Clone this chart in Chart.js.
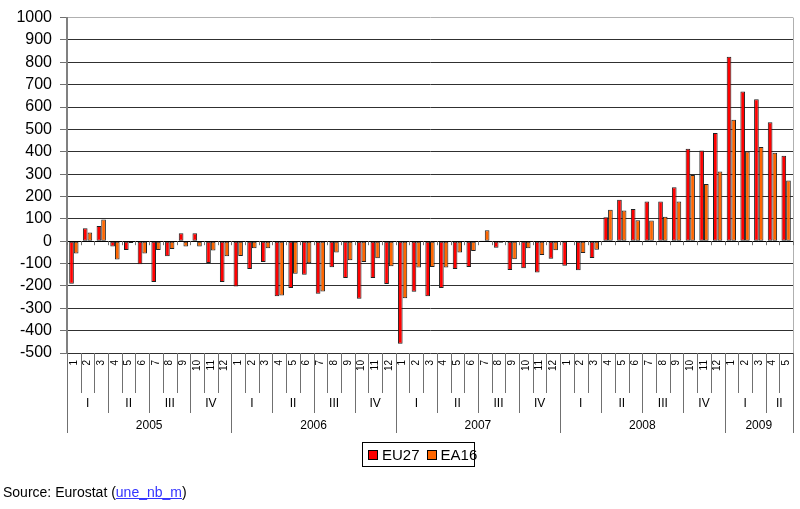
<!DOCTYPE html>
<html>
<head>
<meta charset="utf-8">
<script src="https://cdn.jsdelivr.net/npm/chart.js@4.4.1/dist/chart.umd.min.js"></script>
<style>
  body { margin: 0; background: #fff; }
  #wrap { position: relative; width: 800px; height: 509px; font-family: Arial, "Liberation Sans", sans-serif; }
  #chart { position: absolute; left: 0; top: 0; }
  .legend { position: absolute; left: 362px; top: 442px; width: 111px; height: 23px; border: 1px solid #000; font-size: 15px; line-height: 23px; white-space: nowrap; }
  .legend span.sw { display: inline-block; width: 8px; height: 8px; border: 1px solid #000; margin: 0 4px 0 5px; vertical-align: 0px; }
  .source { position: absolute; left: 3px; top: 484px; font-size: 14px; color: #000; }
  .source a { color: #3333ff; text-decoration: underline; }
</style>
</head>
<body>
<div id="wrap">
  <canvas id="chart" width="800" height="509"></canvas>
  <div class="legend"><span class="sw" style="background:#ff0000"></span>EU27<span class="sw" style="background:#ff6600;margin-left:7px"></span>EA16</div>
  <div class="source">Source: Eurostat (<a href="#">une_nb_m</a>)</div>
</div>
<script>
// time axis
const years = ['2005', '2006', '2007', '2008', '2009'];
const quarters = ['I', 'II', 'III', 'IV'];
const months = ['1','2','3','4','5','6','7','8','9','10','11','12'];
const monthCount = 53; // Jan 2005 .. May 2009

// monthly change, thousands
const eu27 = [
  -190, 58, 68, -24, -39, -103, -183, -67, 36, 36, -97, -183,
  -203, -124, -93, -246, -209, -150, -235, -116, -165, -257, -165, -191,
  -459, -226, -246, -209, -124, -115, 3, -29, -129, -121, -140, -78,
  -110, -130, -75, 107, 185, 144, 178, 178, 241, 413, 406, 484,
  825, 669, 635, 532, 382
];
const ea16 = [
  -55, 39, 97, -82, -8, -55, -39, -35, -24, -24, -42, -67,
  -66, -32, -32, -243, -146, -99, -225, -51, -85, -93, -76, -112,
  -255, -118, -115, -118, -51, -44, 49, -7, -81, -32, -62, -41,
  2, -53, -38, 141, 137, 94, 93, 109, 178, 296, 256, 312,
  543, 401, 421, 396, 272
];

const labels = [];
for (let i = 0; i < monthCount; i++) labels.push(years[Math.floor(i / 12)] + '-' + months[i % 12]);

// draws the month / quarter / year axis under the plot and the small ticks on the zero line
const timeAxis = {
  id: 'timeAxis',
  afterDraw(chart) {
    const ctx = chart.ctx;
    const area = chart.chartArea;
    const w = (area.right - area.left) / monthCount;
    const y0 = chart.scales.y.getPixelForValue(0);
    const bottom = area.bottom;
    ctx.save();
    ctx.lineWidth = 1;
    // right border of plot
    ctx.beginPath();
    ctx.moveTo(Math.round(area.right) + 0.5, area.top);
    ctx.lineTo(Math.round(area.right) + 0.5, bottom);
    ctx.strokeStyle = '#b0b0b0';
    ctx.stroke();
    ctx.strokeStyle = '#707070';
    for (let i = 0; i <= monthCount; i++) {
      const x = Math.round(area.left + i * w) + 0.5;
      let end = bottom + 40;
      if (i % 12 === 0 || i === monthCount) end = bottom + 80;
      else if (i % 3 === 0) end = bottom + 60;
      ctx.beginPath();
      ctx.moveTo(x, bottom);
      ctx.lineTo(x, end);
      ctx.stroke();
      // ticks on the zero axis
      ctx.beginPath();
      ctx.moveTo(x, y0);
      ctx.lineTo(x, y0 + 4);
      ctx.stroke();
    }
    ctx.fillStyle = '#000';
    // month numbers, rotated
    ctx.font = '10px Arial, "Liberation Sans"';
    ctx.textAlign = 'right';
    ctx.textBaseline = 'middle';
    for (let i = 0; i < monthCount; i++) {
      const cx = area.left + (i + 0.5) * w;
      ctx.save();
      ctx.translate(cx, bottom + 7);
      ctx.rotate(-Math.PI / 2);
      ctx.fillText(months[i % 12], 0, 0);
      ctx.restore();
    }
    // quarters
    ctx.font = '12px Arial, "Liberation Sans"';
    ctx.textAlign = 'center';
    for (let q = 0; q * 3 < monthCount; q++) {
      const s = q * 3, e = Math.min(q * 3 + 3, monthCount);
      const cx = area.left + (s + e) / 2 * w;
      ctx.fillText(quarters[q % 4], cx, bottom + 51);
    }
    // years
    for (let y = 0; y < years.length; y++) {
      const s = y * 12, e = Math.min(y * 12 + 12, monthCount);
      const cx = area.left + (s + e) / 2 * w;
      ctx.fillText(years[y], cx, bottom + 73);
    }
    ctx.restore();
  }
};

const chart = new Chart(document.getElementById('chart').getContext('2d'), {
  type: 'bar',
  data: {
    labels: labels,
    datasets: [
      { label: 'EU27', data: eu27, backgroundColor: '#ff0000', borderColor: '#202020', borderWidth: 1, borderSkipped: false },
      { label: 'EA16', data: ea16, backgroundColor: '#ff6600', borderColor: '#202020', borderWidth: 1, borderSkipped: false }
    ]
  },
  options: {
    responsive: false,
    animation: false,
    layout: { padding: { left: 0, top: 13, right: 7, bottom: 156 } },
    datasets: { bar: { categoryPercentage: 0.68, barPercentage: 1.0 } },
    plugins: { legend: { display: false }, tooltip: { enabled: false } },
    scales: {
      x: { display: false, offset: true },
      y: {
        min: -500,
        max: 1000,
        afterFit(scale) { scale.width = 67; },
        ticks: {
          stepSize: 100, color: '#000', padding: 8,
          font: { family: 'Arial, "Liberation Sans"', size: 16 },
          callback: v => String(v)
        },
        grid: {
          color: ctx => ctx.tick.value === 0 ? '#000' : (ctx.tick.value === 1000 ? '#b0b0b0' : '#303030'),
          tickLength: 7,
          tickColor: '#707070'
        },
        border: { color: '#808080', width: 2 }
      }
    }
  },
  plugins: [timeAxis]
});
</script>
</body>
</html>
